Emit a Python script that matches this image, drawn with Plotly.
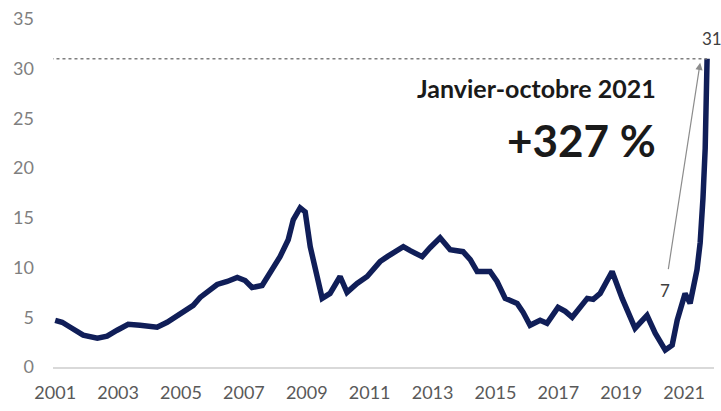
import plotly.graph_objects as go

# Data (decimal year, value)
years = [2001.00, 2001.22, 2001.48, 2001.89, 2002.34, 2002.65, 2002.97, 2003.32, 2003.70,
         2004.24, 2004.56, 2004.97, 2005.39, 2005.61, 2005.83, 2006.15, 2006.47, 2006.79,
         2007.04, 2007.26, 2007.58, 2007.90, 2008.15, 2008.41, 2008.57, 2008.79, 2008.95,
         2009.11, 2009.27, 2009.49, 2009.74, 2010.06, 2010.28, 2010.60, 2010.92, 2011.33,
         2011.56, 2012.07, 2012.29, 2012.67, 2012.92, 2013.24, 2013.56, 2013.97, 2014.20,
         2014.42, 2014.83, 2015.05, 2015.31, 2015.69, 2015.88, 2016.10, 2016.42, 2016.64,
         2016.99, 2017.22, 2017.44, 2017.92, 2018.11, 2018.33, 2018.71, 2019.03, 2019.44,
         2019.82, 2020.08, 2020.40, 2020.62, 2020.78, 2021.03, 2021.19, 2021.41, 2021.51,
         2021.60, 2021.67, 2021.73]
values = [4.7, 4.5, 4.0, 3.2, 2.9, 3.1, 3.7, 4.3, 4.2,
          4.0, 4.5, 5.4, 6.2, 7.0, 7.6, 8.3, 8.6, 9.0,
          8.7, 8.0, 8.2, 9.8, 11.1, 12.8, 14.8, 16.0, 15.6,
          12.1, 10.1, 6.9, 7.4, 9.1, 7.5, 8.4, 9.1, 10.6,
          11.1, 12.1, 11.7, 11.1, 12.0, 13.0, 11.8, 11.6, 10.8,
          9.6, 9.6, 8.6, 6.9, 6.4, 5.5, 4.2, 4.7, 4.4,
          6.0, 5.6, 5.0, 6.9, 6.8, 7.4, 9.6, 6.9, 3.9,
          5.2, 3.4, 1.7, 2.2, 4.7, 7.4, 6.4, 9.8, 12.5,
          17.0, 22.0, 31.0]

tick_years = [2001, 2003, 2005, 2007, 2009, 2011, 2013, 2015, 2017, 2019, 2021]
y_ticks = [0, 5, 10, 15, 20, 25, 30, 35]
start_value = 7
end_value = 31
title_text = "Janvier-octobre 2021"
change_text = "+327 %"

FONT = "Lato, Calibri, sans-serif"

fig = go.Figure()
fig.add_trace(go.Scatter(x=years, y=values, mode="lines",
                         line=dict(color="#101e58", width=5.5),
                         hoverinfo="skip", showlegend=False, cliponaxis=False))

# dotted reference line at the end value
fig.add_shape(type="line", x0=2000.85, x1=years[-1], y0=end_value, y1=end_value,
              xref="x", yref="y", line=dict(color="#7f7f7f", width=1.5, dash="dot"))

# arrow from 7 to 31
fig.add_annotation(x=2021.51, y=30.6, ax=2020.49, ay=9.7, xref="x", yref="y",
                   axref="x", ayref="y", text="", showarrow=True, arrowhead=2,
                   arrowsize=1.2, arrowwidth=1.2, arrowcolor="#8c8c8c")

fig.add_annotation(x=2020.40, y=7.7, text=str(start_value), showarrow=False,
                   font=dict(family=FONT, size=17, color="#404040"))
fig.add_annotation(x=years[-1], y=33.0, text=str(end_value), showarrow=False,
                   xshift=5,
                   font=dict(family=FONT, size=17, color="#404040"))

fig.add_annotation(x=2020.17, y=28.1, text="<b>%s</b>" % title_text, showarrow=False,
                   xanchor="right", font=dict(family=FONT, size=25, color="#1a1a1a"))
fig.add_annotation(x=2020.17, y=22.8, text="<b>%s</b>" % change_text, showarrow=False,
                   xanchor="right", font=dict(family=FONT, size=44, color="#1a1a1a"))

fig.update_layout(
    width=721, height=411,
    margin=dict(l=53, r=7, t=19, b=44, autoexpand=False),
    paper_bgcolor="white", plot_bgcolor="white",
    showlegend=False,
)
fig.update_xaxes(range=[2000.93, 2021.95], tickvals=tick_years,
                 ticktext=[str(y) for y in tick_years],
                 showgrid=False, zeroline=False, showline=True,
                 linecolor="#d9d9d9", linewidth=2, ticks="",
                 ticklabelstandoff=8, automargin=False,
                 tickfont=dict(family=FONT, size=18, color="#595959"))
fig.update_yaxes(range=[0, 35], tickvals=y_ticks, showgrid=False, zeroline=False,
                 showline=False, ticks="", ticklabelstandoff=18, automargin=False,
                 tickfont=dict(family=FONT, size=18, color="#7f7f7f"))

fig.write_html("out.html", config={"displayModeBar": False},
               post_script="document.body.style.margin='0';"
                           "document.body.style.overflow='hidden';")
